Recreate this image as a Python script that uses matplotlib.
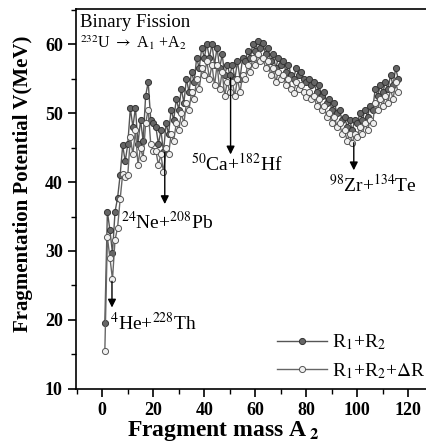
import matplotlib.pyplot as plt

plt.rcParams['font.family'] = ['Liberation Serif', 'DejaVu Serif']
plt.rcParams['mathtext.fontset'] = 'stix'

# fragment mass A2
mass = list(range(1, 117))

# R1+R2 (filled symbols)
v_r12 = [19.5, 35.7, 33.0, 29.7, 35.7, 37.7, 41.0, 45.3, 43.0, 45.5,
         50.7, 48.0, 50.8, 45.5, 49.0, 46.0, 52.5, 54.5, 49.0, 48.5,
         48.0, 45.5, 47.5, 44.3, 48.5, 47.0, 50.5, 49.0, 52.0, 50.5,
         53.5, 51.5, 55.0, 53.0, 56.0, 54.5, 58.0, 56.5, 59.5, 58.0,
         60.0, 58.0, 60.0, 57.0, 59.5, 56.5, 58.5, 55.5, 57.0, 55.5,
         57.0, 55.0, 57.5, 55.0, 58.0, 57.5, 59.0, 58.0, 60.0, 59.0,
         60.5, 59.5, 60.2, 58.5, 59.5, 57.5, 58.5, 56.5, 58.0, 57.0,
         57.5, 56.0, 57.0, 55.5, 55.0, 56.5, 55.5, 56.0, 55.0, 54.5,
         55.0, 54.0, 54.5, 53.0, 54.0, 52.5, 53.0, 51.5, 52.0, 50.5,
         51.5, 50.0, 50.5, 49.0, 49.5, 48.0, 49.0, 47.5, 49.0, 48.5,
         50.0, 49.0, 50.5, 49.5, 51.0, 50.5, 53.5, 52.5, 54.0, 53.0,
         54.5, 53.5, 55.5, 54.0, 56.5, 55.0]

# R1+R2+dR (open symbols)
v_r12dr = [15.5, 32.0, 29.0, 25.9, 31.6, 33.4, 37.5, 41.2, 40.8, 41.0,
           46.5, 44.0, 47.5, 42.5, 45.0, 43.5, 48.5, 50.5, 45.5, 44.5,
           44.5, 42.5, 44.0, 41.4, 45.0, 44.0, 47.0, 46.0, 48.5, 47.5,
           50.0, 48.5, 51.5, 50.5, 53.0, 52.0, 55.0, 53.5, 56.5, 55.5,
           57.5, 55.0, 57.0, 54.0, 57.0, 53.5, 56.0, 52.5, 54.5, 53.0,
           54.5, 52.5, 55.0, 53.0, 55.5, 55.0, 57.0, 56.0, 58.0, 57.0,
           58.5, 57.5, 58.0, 56.5, 57.5, 55.5, 56.5, 54.5, 56.0, 55.0,
           55.5, 54.0, 55.0, 53.5, 52.9, 54.5, 53.5, 54.0, 53.0, 52.4,
           53.0, 52.0, 52.5, 51.0, 52.0, 50.5, 51.0, 49.5, 50.0, 48.5,
           49.5, 48.0, 48.5, 47.0, 47.5, 46.0, 47.0, 45.7, 47.0, 46.5,
           48.0, 47.0, 48.5, 47.5, 49.0, 48.5, 51.5, 50.5, 52.0, 51.0,
           52.5, 51.5, 53.5, 52.0, 54.5, 53.0]

# annotated decays: (arrow x, arrow start, arrow tip, label x, label y, label)
decays = [
    (3.8, 25.6, 21.8, 3.2, 19.6, r'$^{4}$He+$^{228}$Th'),
    (24.5, 44.3, 36.8, 25.5, 34.2, r'$^{24}$Ne+$^{208}$Pb'),
    (50.3, 55.1, 44.0, 52.8, 42.6, r'$^{50}$Ca+$^{182}$Hf'),
    (98.6, 45.7, 41.7, 106, 39.6, r'$^{98}$Zr+$^{134}$Te'),
]

fig = plt.figure(figsize=(4.27, 4.46), dpi=100)
ax = fig.add_axes([0.178, 0.128, 0.822, 0.852])

ax.plot(mass, v_r12, '-o', color='#555555', lw=1.0, ms=4.4,
        mfc='#666666', mec='#333333', mew=0.7, label=r'R$_1$+R$_2$')
ax.plot(mass, v_r12dr, '-o', color='#666666', lw=1.0, ms=4.4,
        mfc='#f0f0f0', mec='#555555', mew=0.7, label=r'R$_1$+R$_2$+$\Delta$R')

for x, y0, y1, lx, ly, lab in decays:
    ax.annotate('', xy=(x, y1), xytext=(x, y0),
                arrowprops=dict(arrowstyle='-|>', color='k', lw=1.0,
                                mutation_scale=12, shrinkA=0, shrinkB=0))
    ax.text(lx, ly, lab, fontsize=14, ha='left' if x < 10 else 'center', va='center')

ax.text(-8.7, 63.2, 'Binary Fission', fontsize=13.5, va='center')
ax.text(-8.7, 60.2, r'$^{232}$U $\rightarrow$ A$_1$ +A$_2$', fontsize=11.5, va='center')

ax.set_xlim(-10.3, 127.3)
ax.set_ylim(10, 65.1)
ax.set_xticks(range(0, 121, 20))
ax.set_xticks(range(-10, 126, 10), minor=True)
ax.set_yticks(range(10, 61, 10))
ax.set_yticks(range(15, 66, 10), minor=True)
ax.tick_params(which='major', direction='out', length=6, width=1.2, labelsize=13)
ax.tick_params(which='minor', direction='out', length=3.5, width=1.0)
for t in ax.get_xticklabels() + ax.get_yticklabels():
    t.set_fontweight('bold')

ax.spines['right'].set_visible(False)
for s in ['left', 'bottom', 'top']:
    ax.spines[s].set_linewidth(1.2)

ax.set_xlabel(r'Fragment mass A$_{\ \mathbf{2}}$', fontsize=17, fontweight='bold')
ax.set_ylabel('Fragmentation Potential V(MeV)', fontsize=15, fontweight='bold')
ax.xaxis.set_label_coords(0.42, -0.08)
ax.yaxis.set_label_coords(-0.122, 0.54)

ax.legend(loc='lower right', bbox_to_anchor=(1.045, -0.025), frameon=False,
          fontsize=14, handlelength=2.6, labelspacing=0.45, handletextpad=0.25)

fig.savefig('out.png', dpi=100)
